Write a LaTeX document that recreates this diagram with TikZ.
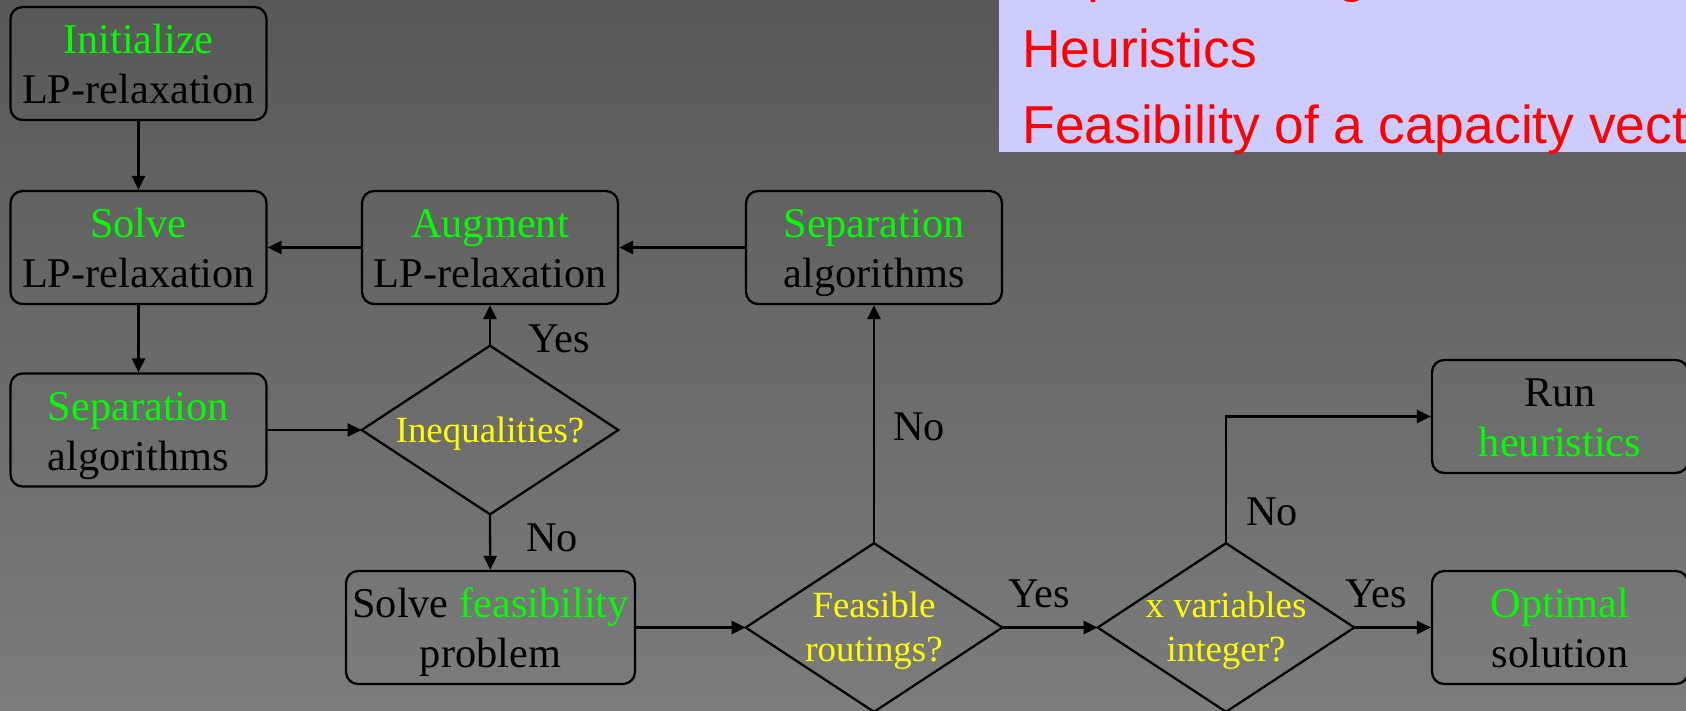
\documentclass[tikz,border=0pt]{standalone}
\usepackage{fontspec}
\setmainfont{Liberation Serif}
\newfontfamily\slidesans{Liberation Sans}
\usetikzlibrary{arrows.meta}

\definecolor{bgtop}{RGB}{88,88,88}
\definecolor{bgbottom}{RGB}{124,124,124}
\definecolor{lavender}{RGB}{204,204,255}
\definecolor{hlgreen}{RGB}{0,255,0}
\definecolor{hlyellow}{RGB}{255,255,0}

\begin{document}
\begin{tikzpicture}[x=0.02cm,y=-0.02cm,
    box/.style={draw,line width=1.3pt,rounded corners=0.24cm,
      minimum width=5.12cm,minimum height=2.26cm,inner sep=0pt,
      align=center,font=\fontsize{24.1}{28.4}\selectfont,
      execute at begin node={\rule{0pt}{51.6pt}},
      execute at end node={\rule[-5.67pt]{0pt}{5.67pt}}},
    decision/.style={minimum width=5.12cm,minimum height=3.36cm,
      inner sep=0pt,align=center,text=hlyellow,
      font=\fontsize{21}{25}\selectfont,
      execute at begin node={\rule{0pt}{#1}},
      execute at end node={\rule[-5.67pt]{0pt}{5.67pt}}},
    decision/.default=44.8pt,
    arr/.style={line width=1.3pt,-{Triangle[length=0.28cm,width=0.26cm]}},
    answer/.style={inner sep=0pt,font=\fontsize{24.1}{28.4}\selectfont},
    topic/.style={anchor=base west,inner sep=0pt,text=red,
      font=\slidesans\fontsize{30.4}{36}\selectfont}]
  \useasboundingbox (0,0) rectangle (1686,710);
  \clip (0,0) rectangle (1686,710);
  \shade[top color=bgtop,bottom color=bgbottom] (0,0) rectangle (1686,710);

  % list of topics, upper right
  \fill[lavender] (999,-30) rectangle (1760,152);
  \node[topic] (tsep) at (1022,-9) {Separation algorithms};
  \node[topic] (theur) at (1022,67) {Heuristics};
  \node[topic] (tfeas) at (1022,143) {Feasibility of a capacity vector};

  % boxes
  \node[box] (init) at (138.5,63.5) {\textcolor{hlgreen}{Initialize}\\LP-relaxation};
  \node[box] (solve) at (138.5,247.5) {\textcolor{hlgreen}{Solve}\\LP-relaxation};
  \node[box] (sepl) at (138.5,430) {\textcolor{hlgreen}{Separation}\\algorithms};
  \node[box] (aug) at (490,247.5) {\textcolor{hlgreen}{Augment}\\LP-relaxation};
  \node[box] (sept) at (874,247.5) {\textcolor{hlgreen}{Separation}\\algorithms};
  \node[box,minimum width=5.78cm] (feas) at (490.5,627.5)
    {Solve \textcolor{hlgreen}{feasibility}\\problem};
  \node[box] (run) at (1560,416.5) {Run\\\textcolor{hlgreen}{heuristics}};
  \node[box] (opt) at (1560,627.5) {\textcolor{hlgreen}{Optimal}\\solution};

  % decisions
  \node[decision=20.4pt] (ineq) at (490,430) {Inequalities?};
  \node[decision] (feasq) at (874,627.5) {Feasible\\routings?};
  \node[decision] (intq) at (1226,627.5) {x variables\\integer?};
  \foreach \d in {ineq,feasq,intq}
    \draw[line width=1.3pt] (\d.north) -- (\d.east) -- (\d.south) -- (\d.west) -- cycle;

  % flow
  \draw[arr] (init) -- (solve);
  \draw[arr] (solve) -- (sepl);
  \draw[arr] (aug) -- (solve);
  \draw[arr] (sept) -- (aug);
  \draw[arr] (sepl) -- (ineq.west);
  \draw[arr] (ineq.north) -- (aug);
  \draw[arr] (ineq.south) -- (feas);
  \draw[arr] (feas) -- (feasq.west);
  \draw[arr] (feasq.north) -- (sept);
  \draw[arr] (feasq.east) -- (intq.west);
  \draw[arr] (intq.north) |- (run);
  \draw[arr] (intq.east) -- (opt);

  \node[answer] (yesaug) at (559,339) {Yes};
  \node[answer] (nofeas) at (552,538) {No};
  \node[answer] (nosep) at (919,427) {No};
  \node[answer] (yesint) at (1039,594) {Yes};
  \node[answer] (norun) at (1272,512) {No};
  \node[answer] (yesopt) at (1376,594) {Yes};
\end{tikzpicture}
\end{document}
